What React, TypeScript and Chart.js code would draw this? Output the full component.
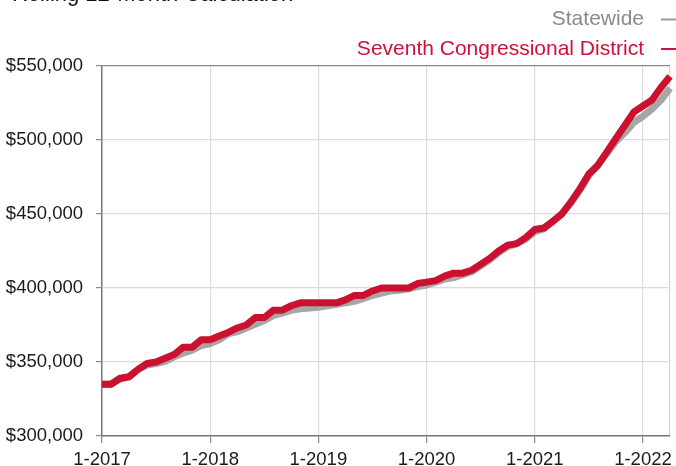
import React, { useEffect, useRef } from "react";
import { Chart, registerables } from "chart.js";

Chart.register(...registerables);

const TITLE = "Rolling 12-Month Calculation";

const START_YEAR = 2017;
const MONTH_COUNT = 64;
const months: string[] = [];
for (let i = 0; i < MONTH_COUNT; i++) {
  months.push(`${(i % 12) + 1}-${START_YEAR + Math.floor(i / 12)}`);
}

const seventhDistrict = [
  335000, 335000, 339000, 340000, 345000, 349000, 350000, 352500, 355000, 360000, 360000, 365000,
  365000, 367500, 370000, 373000, 375000, 380000, 380000, 385000, 385000, 388000, 390000, 390000,
  390000, 390000, 390000, 392000, 395000, 395000, 398000, 400000, 400000, 400000, 400000, 403000,
  404000, 405000, 408000, 410000, 410000, 412000, 416000, 420000, 425000, 429000, 430000, 434000,
  439500, 440500, 445000, 450000, 458000, 467000, 477000, 483000, 492000, 501000, 510000, 519000,
  523000, 527000, 535500, 543000,
];

const statewide = [
  335000, 335000, 338500, 340000, 345000, 348000, 349000, 350500, 353500, 356000, 358000, 361000,
  362500, 365000, 369000, 370500, 373000, 375500, 378000, 381500, 383000, 385000, 386000, 386500,
  387000, 388000, 389000, 390000, 391000, 393000, 395000, 396500, 398000, 398500, 399500, 401000,
  402000, 404000, 406000, 407000, 409000, 411000, 415000, 419000, 424000, 428000, 430000, 433000,
  438000, 440000, 445000, 450000, 457500, 466000, 476000, 483000, 491000, 499000, 505000, 512000,
  516000, 521000, 527000, 535000,
];

const Y_MIN = 300000;
const Y_MAX = 550000;
const Y_STEP = 50000;

const RED = "#cc1030";
const GRAY = "#a6a6a6";
const FONT = '"Liberation Sans", Arial, Helvetica, sans-serif';

const headerPlugin = {
  id: "headerPlugin",
  afterDraw(chart: any) {
    const ctx = chart.ctx;
    ctx.save();
    ctx.font = `22px ${FONT}`;
    ctx.fillStyle = "#111";
    ctx.textAlign = "left";
    ctx.textBaseline = "alphabetic";
    ctx.fillText(TITLE, 12, 1);

    const items = [
      { ds: chart.data.datasets[1], text: "#8a8a8a", line: "#9a9a9a", y: 19.5 },
      { ds: chart.data.datasets[0], text: "#d0103a", line: "#d0103a", y: 49 },
    ];
    ctx.font = `21px ${FONT}`;
    ctx.textAlign = "right";
    ctx.textBaseline = "middle";
    for (const it of items) {
      ctx.fillStyle = it.text;
      ctx.fillText(it.ds.label, 644, it.y);
      ctx.strokeStyle = it.line;
      ctx.lineWidth = 2;
      ctx.beginPath();
      ctx.moveTo(661, it.y);
      ctx.lineTo(676, it.y);
      ctx.stroke();
    }
    ctx.restore();
  },
};

export default function App() {
  const ref = useRef<HTMLCanvasElement | null>(null);

  useEffect(() => {
    if (!ref.current) return;
    const chart = new Chart(ref.current, {
      type: "line",
      data: {
        labels: months,
        datasets: [
          {
            label: "Seventh Congressional District",
            data: seventhDistrict,
            borderColor: RED,
            borderWidth: 7,
            pointRadius: 0,
            tension: 0,
            borderCapStyle: "butt",
            borderJoinStyle: "round",
          },
          {
            label: "Statewide",
            data: statewide,
            borderColor: GRAY,
            borderWidth: 7,
            pointRadius: 0,
            tension: 0,
            borderCapStyle: "butt",
            borderJoinStyle: "round",
          },
        ],
      },
      options: {
        animation: false,
        responsive: false,
        maintainAspectRatio: false,
        devicePixelRatio: 1,
        layout: { padding: { top: 66, left: 0, right: 4, bottom: 0 } },
        plugins: {
          legend: { display: false },
          title: { display: false },
          tooltip: { enabled: false },
        },
        scales: {
          x: {
            type: "category",
            afterFit: (scale: any) => {
              scale.height = 44;
            },
            border: { display: true, color: "#7a7a7a", width: 1.5 },
            grid: {
              tickLength: 7,
              lineWidth: 1.2,
              color: (c: any) => {
                const i = c.index;
                if (i === MONTH_COUNT - 1) return "#d4d4d4";
                return i % 12 === 0 ? "#dcdcdc" : "rgba(0,0,0,0)";
              },
              tickColor: (c: any) => {
                const i = c.index;
                return i % 12 === 0 && i !== MONTH_COUNT - 1 ? "#8a8a8a" : "rgba(0,0,0,0)";
              },
            },
            ticks: {
              autoSkip: false,
              maxRotation: 0,
              minRotation: 0,
              padding: 6,
              color: "#1a1a1a",
              font: { family: FONT, size: 18.5 },
              callback: function (this: any, val: any) {
                const l = this.getLabelForValue(val);
                return l.startsWith("1-") ? l : "";
              },
            },
          },
          y: {
            min: Y_MIN,
            max: Y_MAX,
            afterFit: (scale: any) => {
              scale.width = 102;
            },
            border: { display: true, color: "#7a7a7a", width: 1.5 },
            grid: {
              tickLength: 6,
              lineWidth: 1.2,
              color: (c: any) => (c.tick && c.tick.value === Y_MAX ? "#8a8a8a" : "#dcdcdc"),
              tickColor: "#8a8a8a",
            },
            ticks: {
              stepSize: Y_STEP,
              padding: 13,
              color: "#1a1a1a",
              font: { family: FONT, size: 18.5 },
              callback: (v: any) => "$" + Number(v).toLocaleString("en-US"),
            },
          },
        },
      },
      plugins: [headerPlugin],
    });
    return () => chart.destroy();
  }, []);

  return (
    <div
      style={{
        position: "fixed",
        left: 0,
        top: 0,
        width: 676,
        height: 466,
        overflow: "hidden",
        background: "#fff",
      }}
    >
      <canvas ref={ref} width={676} height={480} style={{ display: "block", width: 676, height: 480 }} />
    </div>
  );
}
